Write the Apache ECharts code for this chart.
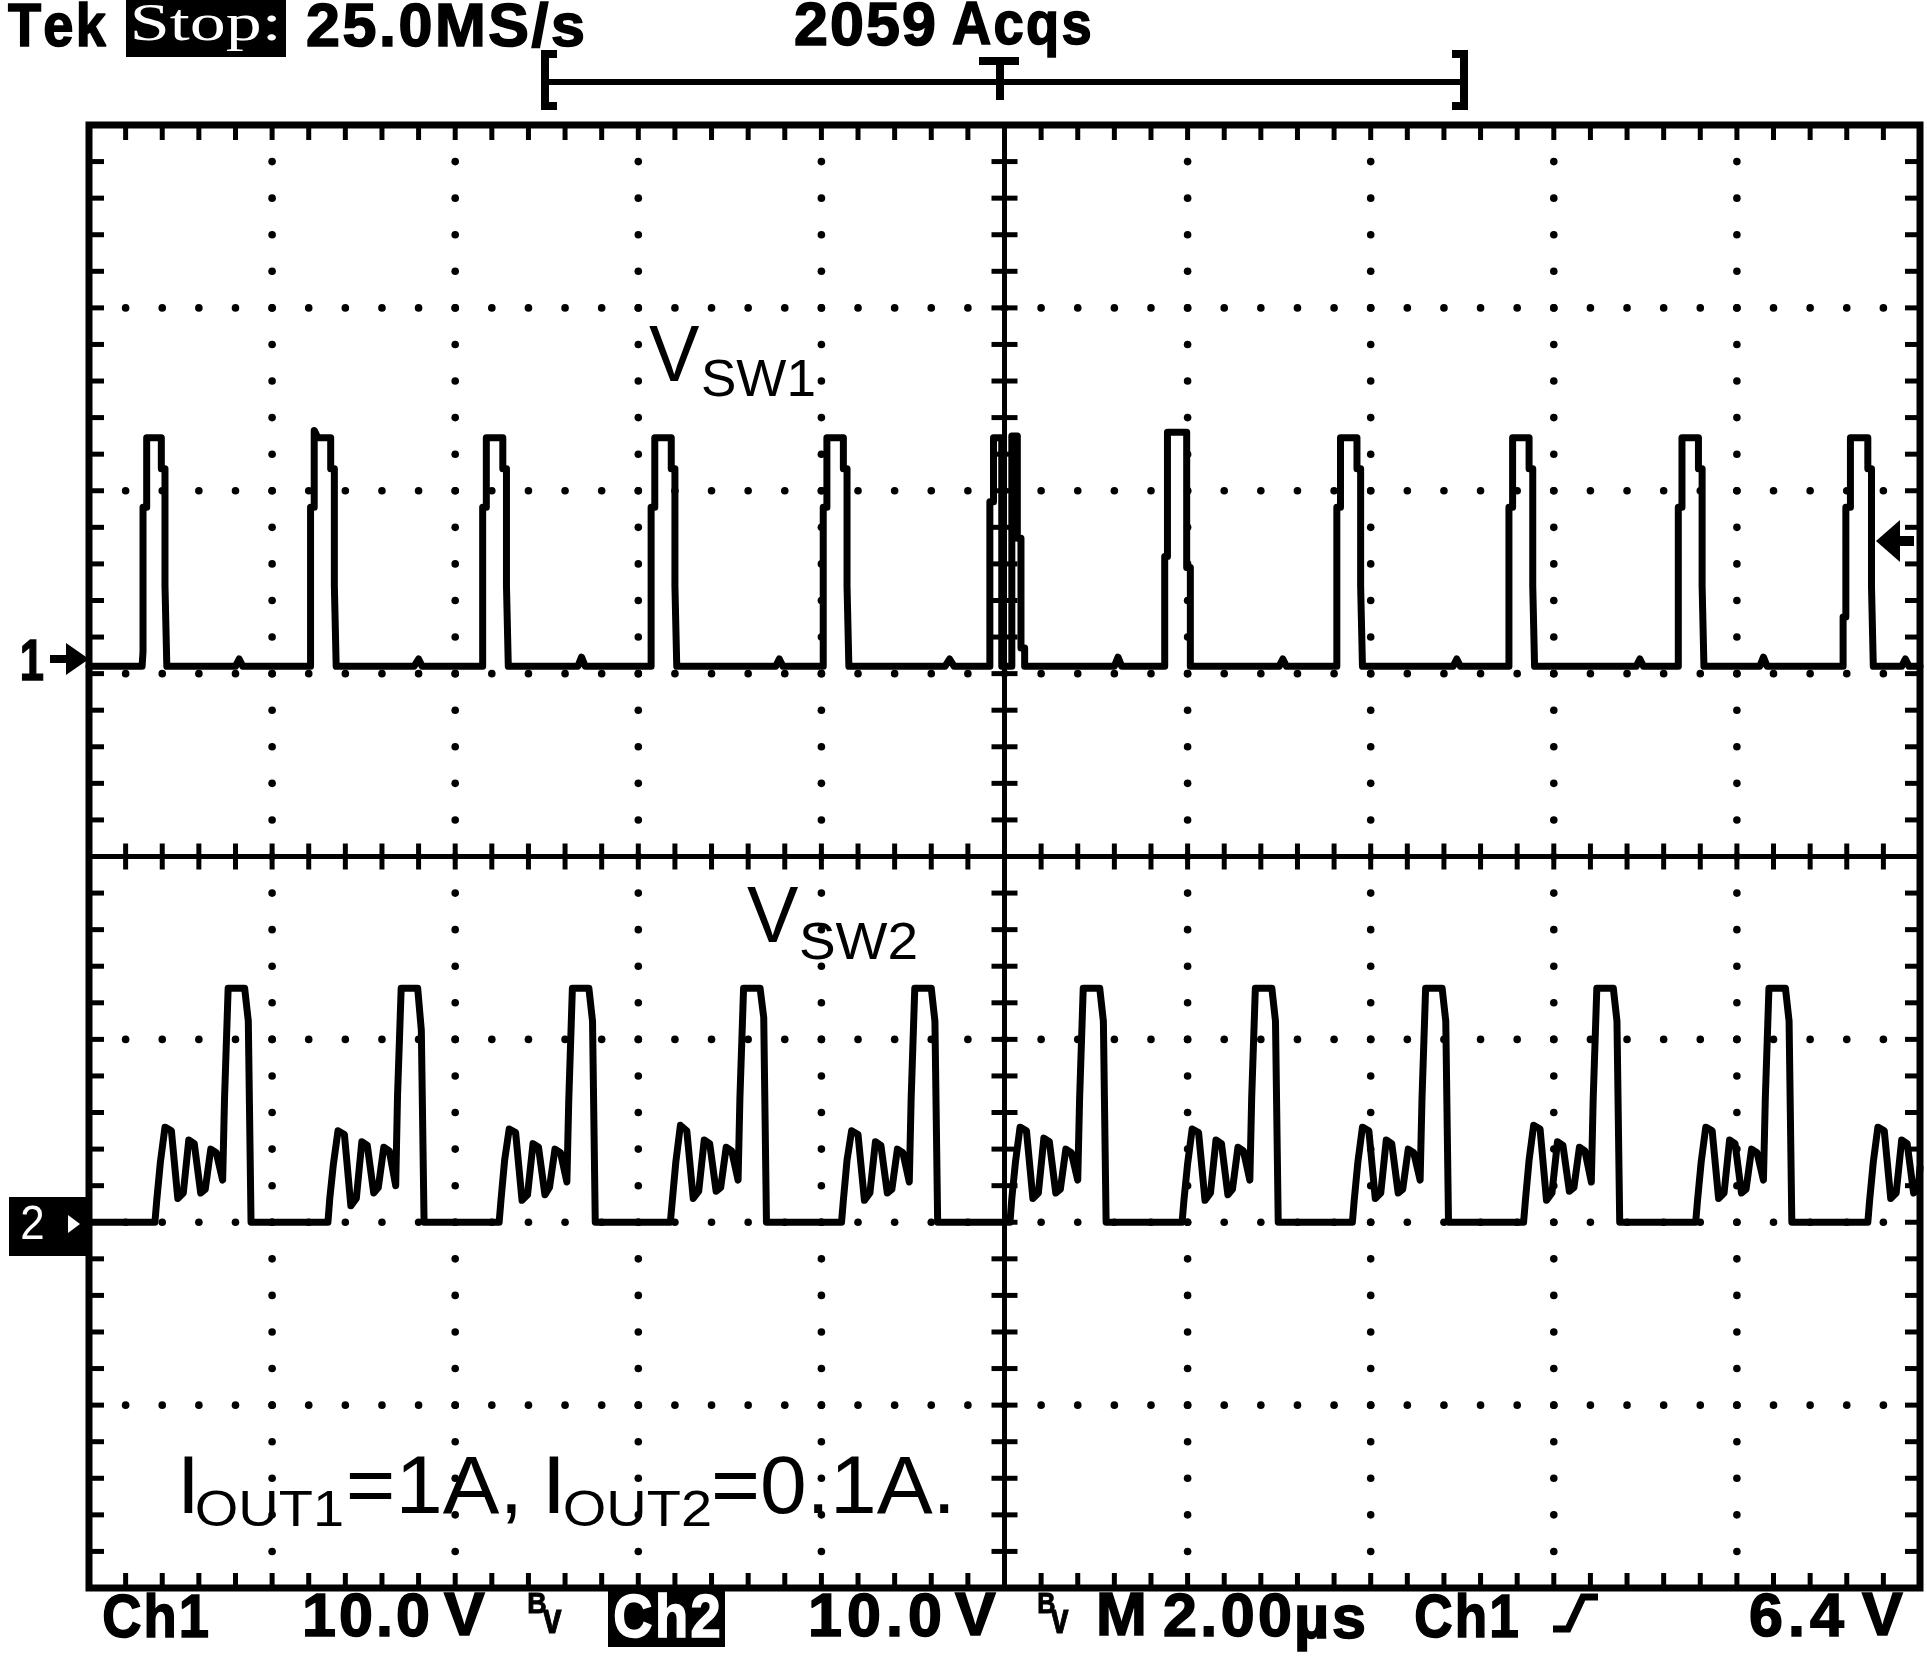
<!DOCTYPE html>
<html><head><meta charset="utf-8">
<script src="https://cdn.jsdelivr.net/npm/echarts@6/dist/echarts.min.js"></script>
<style>html,body{margin:0;padding:0;background:#fff}#c{width:1927px;height:1656px}</style>
</head><body><div id="c"></div>
<script>
// ---- axis ranges (screen = 10 div x 2 us, 8 div vertical, 10 V/div) ----
const timeRange = [0, 20];        // microseconds across the screen
const divRange = [-4, 4];         // graticule divisions
const ch1Range = [-50.4, 29.6];   // volts shown by channel 1 (ground at +1.04 div)
const ch2Range = [-20, 60];       // volts shown by channel 2 (ground at -2 div)

// ---- channel 1 trace (V_SW1): [time us, volts] ----
const ch1Trace = [
[0,0],
[0.58,0],[0.59,0.8],[0.59,8.7],[0.63,8.7],[0.63,12.5],[0.79,12.5],[0.79,10.8],[0.83,10.8],[0.83,4.4],[0.85,4.4],[0.85,0],
[1.60,0],[1.64,0.4],[1.68,0],
[2.42,0],[2.42,8.7],[2.46,8.7],[2.46,12.9],[2.50,12.5],[2.64,12.5],[2.64,10.8],[2.68,10.8],[2.68,4.4],[2.70,4.4],[2.70,0],
[3.55,0],[3.60,0.4],[3.64,0],
[4.30,0],[4.30,8.7],[4.34,8.7],[4.34,12.5],[4.52,12.5],[4.52,10.8],[4.56,10.8],[4.56,4.4],[4.58,4.4],[4.58,0],
[5.34,0],[5.38,0.5],[5.42,0],
[6.14,0],[6.14,8.7],[6.18,8.7],[6.18,12.5],[6.36,12.5],[6.36,10.8],[6.40,10.8],[6.40,4.4],[6.42,4.4],[6.42,0],
[7.50,0],[7.54,0.4],[7.58,0],
[8.02,0],[8.02,8.7],[8.06,8.7],[8.06,12.5],[8.24,12.5],[8.24,10.8],[8.28,10.8],[8.28,4.4],[8.30,4.4],[8.30,0],
[9.35,0],[9.40,0.4],[9.45,0],
[9.84,0],[9.84,9.0],[9.88,9.0],[9.88,12.5],[9.97,12.5],[9.97,0],[10.08,0],[10.08,12.6],[10.14,12.6],[10.14,7.0],[10.18,7.0],[10.18,1.0],[10.22,1.0],[10.22,0],
[11.20,0],[11.24,0.5],[11.28,0],
[11.75,0],[11.75,6.0],[11.78,6.0],[11.78,12.8],[11.99,12.8],[11.99,5.4],[12.03,5.4],[12.03,0],
[13.00,0],[13.04,0.4],[13.08,0],
[13.63,0],[13.63,8.7],[13.67,8.7],[13.67,12.5],[13.85,12.5],[13.85,10.8],[13.89,10.8],[13.89,4.4],[13.91,4.4],[13.91,0],
[14.90,0],[14.94,0.4],[14.98,0],
[15.51,0],[15.51,8.7],[15.55,8.7],[15.55,12.5],[15.73,12.5],[15.73,10.8],[15.77,10.8],[15.77,4.4],[15.79,4.4],[15.79,0],
[16.90,0],[16.94,0.4],[16.98,0],
[17.36,0],[17.36,8.7],[17.40,8.7],[17.40,12.5],[17.58,12.5],[17.58,10.8],[17.62,10.8],[17.62,4.4],[17.64,4.4],[17.64,0],
[18.25,0],[18.29,0.5],[18.33,0],
[19.16,0],[19.16,2.7],[19.19,2.7],[19.19,8.7],[19.24,8.7],[19.24,12.5],[19.43,12.5],[19.43,10.8],[19.47,10.8],[19.47,4.4],[19.49,4.4],[19.49,0],
[19.80,0],[19.84,0.4],[19.88,0],[20,0]
];

// ---- channel 2 trace (V_SW2): [time us, volts] ----
const ch2Trace = [
[0,0],
[0.72,0],[0.74,1.2],[0.78,3.3],[0.83,5.2],[0.90,5.0],[0.97,1.3],[1.03,1.6],[1.09,4.5],[1.15,4.3],[1.22,1.6],[1.27,1.8],[1.33,4.0],[1.39,3.8],[1.46,2.3],[1.48,6.7],[1.52,12.8],[1.70,12.8],[1.74,11.0],[1.77,0],
[2.61,0],[2.63,1.3],[2.67,3.2],[2.72,5.0],[2.79,4.8],[2.86,0.9],[2.92,1.3],[2.98,4.4],[3.04,4.2],[3.11,1.6],[3.16,1.9],[3.22,4.1],[3.28,3.9],[3.35,2.0],[3.37,6.9],[3.41,12.8],[3.59,12.8],[3.63,10.5],[3.66,0],
[4.48,0],[4.50,1.2],[4.54,3.4],[4.59,5.1],[4.66,4.9],[4.73,1.2],[4.79,1.5],[4.85,4.3],[4.91,4.1],[4.98,1.5],[5.03,1.9],[5.09,4.0],[5.15,3.8],[5.22,2.2],[5.24,6.6],[5.28,12.8],[5.46,12.8],[5.50,11.0],[5.53,0],
[6.35,0],[6.37,1.1],[6.41,3.3],[6.46,5.3],[6.53,5.0],[6.60,1.3],[6.66,1.7],[6.72,4.5],[6.78,4.3],[6.85,1.7],[6.90,1.9],[6.96,4.1],[7.02,3.9],[7.09,2.3],[7.11,6.8],[7.15,12.8],[7.33,12.8],[7.37,11.2],[7.40,0],
[8.22,0],[8.24,1.2],[8.28,3.4],[8.33,5.0],[8.40,4.8],[8.47,1.2],[8.53,1.6],[8.59,4.4],[8.65,4.2],[8.72,1.6],[8.77,1.8],[8.83,4.0],[8.89,3.8],[8.96,2.2],[8.98,6.7],[9.02,12.8],[9.20,12.8],[9.24,11.0],[9.27,0],
[10.06,0],[10.08,1.3],[10.12,3.3],[10.17,5.2],[10.24,5.0],[10.31,1.3],[10.37,1.6],[10.43,4.6],[10.49,4.4],[10.56,1.6],[10.61,1.8],[10.67,4.0],[10.73,3.8],[10.80,2.3],[10.82,6.7],[10.86,12.8],[11.04,12.8],[11.08,11.0],[11.11,0],
[11.94,0],[11.96,1.2],[12.00,3.2],[12.05,5.1],[12.12,4.9],[12.19,1.2],[12.25,1.6],[12.31,4.5],[12.37,4.3],[12.44,1.5],[12.49,1.8],[12.55,4.1],[12.61,3.9],[12.68,2.3],[12.70,6.8],[12.74,12.8],[12.92,12.8],[12.96,11.0],[12.99,0],
[13.80,0],[13.82,1.2],[13.86,3.3],[13.91,5.2],[13.98,5.0],[14.05,1.3],[14.11,1.6],[14.17,4.5],[14.23,4.3],[14.30,1.6],[14.35,1.8],[14.41,4.0],[14.47,3.8],[14.54,2.3],[14.56,6.7],[14.60,12.8],[14.78,12.8],[14.82,11.0],[14.85,0],
[15.67,0],[15.69,1.2],[15.73,3.4],[15.78,5.3],[15.85,5.1],[15.92,1.2],[15.98,1.6],[16.04,4.4],[16.10,4.2],[16.17,1.7],[16.22,1.9],[16.28,4.1],[16.34,3.9],[16.41,2.2],[16.43,6.7],[16.47,12.8],[16.65,12.8],[16.69,11.0],[16.72,0],
[17.55,0],[17.57,1.2],[17.61,3.3],[17.66,5.2],[17.73,5.0],[17.80,1.3],[17.86,1.6],[17.92,4.5],[17.98,4.3],[18.05,1.6],[18.10,1.8],[18.16,4.0],[18.22,3.8],[18.29,2.3],[18.31,6.7],[18.35,12.8],[18.53,12.8],[18.57,11.0],[18.60,0],
[19.43,0],[19.45,1.2],[19.49,3.3],[19.54,5.2],[19.61,5.0],[19.68,1.3],[19.74,1.6],[19.80,4.5],[19.86,4.3],[19.93,1.6],[19.98,1.8],[20,3.0]
];

// ---- screen texts ----
const headerTexts = ['Tek', 'Stop:', '25.0MS/s', '2059', 'Acqs'];
const footerTexts = ['Ch1', '10.0', 'V', 'Ch2', '10.0', 'V', 'M', '2.00', 'µs', 'Ch1', '6.4', 'V'];
const traceLabels = ['V', 'SW1', 'V', 'SW2'];
const noteTexts = ['I', 'OUT1', '=1A,', 'I', 'OUT2', '=0.1A.'];

// ---------------------------------------------------------------
const mctx = document.createElement('canvas').getContext('2d');
mctx.textBaseline = 'middle';
function fontOf(size, o) {
  return (o.weight || 'bold') + ' ' + size + 'px "' + (o.family || 'Liberation Sans') + '"';
}
function txtEl(str, x, y, sx, font, fill, strokeW) {
  const st = { text: str, font: font, fill: fill || '#000',
    textAlign: 'left', textVerticalAlign: 'middle', align: 'left', verticalAlign: 'middle' };
  if (strokeW) { st.stroke = fill || '#000'; st.lineWidth = strokeW; }
  return { type: 'text', x: x, y: y, scaleX: sx, scaleY: 1, z: 100, style: st };
}
// whole string stretched to fit [left,right]; top = ink top
function label(str, left, right, top, size, o) {
  o = o || {};
  const font = fontOf(size, o);
  mctx.font = font;
  const m = mctx.measureText(str);
  const ink = m.actualBoundingBoxLeft + m.actualBoundingBoxRight;
  const sx = (right - left) / ink;
  return [txtEl(str, left + m.actualBoundingBoxLeft * sx, top + m.actualBoundingBoxAscent, sx, font, o.fill, o.stroke)];
}
// scope-style lettering: glyphs with even letter spacing to fit [left,right]
function spaced(str, left, right, top, size, o) {
  o = o || {};
  const font = fontOf(size, o);
  mctx.font = font;
  const chars = Array.from(str);
  const ms = chars.map(c => mctx.measureText(c));
  const asc = mctx.measureText(str).actualBoundingBoxAscent;
  const n = chars.length;
  let cx = o.cx || 1.0, x0 = 0, gap = 0;
  const solve = () => {
    x0 = left + ms[0].actualBoundingBoxLeft * cx;
    let advSum = 0;
    for (let i = 0; i < n - 1; i++) advSum += ms[i].width * cx;
    gap = n > 1 ? (right - ms[n - 1].actualBoundingBoxRight * cx - x0 - advSum) / (n - 1) : 0;
  };
  solve();
  while (n > 1 && gap < 2 && cx > 0.6) { cx -= 0.01; solve(); }
  const out = [];
  let x = x0;
  for (let i = 0; i < n; i++) {
    out.push(txtEl(chars[i], x, top + asc, cx, font, o.fill, o.stroke === undefined ? 1.6 : o.stroke));
    x += ms[i].width * cx + gap;
  }
  return out;
}
function rect(x, y, w, h, fill) {
  return { type: 'rect', z: 90, shape: { x: x, y: y, width: w, height: h }, style: { fill: fill || '#000' } };
}
function poly(points, fill) {
  return { type: 'polygon', z: 95, shape: { points: points }, style: { fill: fill || '#000' } };
}
function pline(points, w) {
  return { type: 'polyline', z: 95, shape: { points: points }, style: { stroke: '#000', lineWidth: w, fill: null, lineJoin: 'miter' } };
}

const H = headerTexts, F = footerTexts, T = traceLabels, N = noteTexts;
const graphics = [].concat(
  // header
  spaced(H[0], 8, 106, 2, 61),
  [rect(126, 0, 160, 57)],
  label(H[1], 134, 277, 5, 52, { family: 'Liberation Serif', weight: 'normal', fill: '#fff' }),
  spaced(H[2], 308, 583, 2, 61),
  spaced(H[3], 796, 934, 2, 61),
  spaced(H[4], 953, 1090, 2, 61),
  // record-length bracket and trigger position marker
  [rect(548, 79, 914, 6),
   pline([[557, 54], [545, 54], [545, 106], [557, 106]], 8),
   pline([[1452, 54], [1464, 54], [1464, 106], [1452, 106]], 8),
   rect(979, 57, 40, 8),
   rect(996, 57, 8, 43)],
  // footer
  spaced(F[0], 104, 208, 1593, 61),
  spaced(F[1], 305, 428, 1593, 61),
  spaced(F[2], 444, 476, 1593, 61),
  label('B', 529, 546, 1593, 30, { stroke: 1 }),
  label('v', 543, 562, 1610, 42, { stroke: 1 }),
  [rect(608, 1590, 117, 57)],
  spaced(F[3], 615, 719, 1593, 61, { fill: '#fff' }),
  spaced(F[4], 811, 940, 1593, 61),
  spaced(F[5], 955, 987, 1593, 61),
  label('B', 1039, 1055, 1593, 30, { stroke: 1 }),
  label('v', 1051, 1069, 1610, 42, { stroke: 1 }),
  spaced(F[6], 1100, 1137, 1593, 61),
  spaced(F[7], 1165, 1290, 1593, 61),
  spaced(F[8], 1297, 1364, 1605, 61),
  spaced(F[9], 1416, 1518, 1593, 61),
  [pline([[1553, 1629], [1568, 1629], [1583, 1597], [1598, 1597]], 7)],
  spaced(F[10], 1751, 1844, 1593, 61),
  spaced(F[11], 1862, 1899, 1593, 61),
  // channel ground markers
  label('1', 22, 43, 640, 58, { stroke: 1.5 }),
  [rect(50, 655, 22, 8),
   poly([[66, 643], [89, 659], [66, 675]]),
   rect(9, 1197, 80, 59)],
  label('2', 22, 43, 1205, 48, { weight: 'normal', fill: '#fff' }),
  [poly([[68, 1215], [80, 1224], [68, 1233]], '#fff'),
  // trigger level marker
   poly([[1876, 541], [1900, 520], [1900, 562]]),
   rect(1898, 536, 16, 10)],
  // trace labels
  label(T[0], 649, 700, 326, 80, { weight: 'normal' }),
  label(T[1], 703, 814, 359, 52, { weight: 'normal' }),
  label(T[2], 747, 799, 887, 80, { weight: 'normal' }),
  label(T[3], 801, 916, 922, 52, { weight: 'normal' }),
  // load note
  label(N[0], 184, 193, 1456, 82, { weight: 'normal' }),
  label(N[1], 197, 342, 1490, 50, { weight: 'normal' }),
  label(N[2], 350, 516, 1456, 82, { weight: 'normal' }),
  label(N[3], 549, 559, 1456, 82, { weight: 'normal' }),
  label(N[4], 565, 710, 1490, 50, { weight: 'normal' }),
  label(N[5], 715, 949, 1456, 82, { weight: 'normal' })
);

// graticule drawn through the axis scales
function renderGraticule(params, api) {
  const ch = [];
  const P = (t, d) => api.coord([t, d]);
  const dot = (p) => ({ type: 'circle', shape: { cx: p[0], cy: p[1], r: 3.8 }, style: { fill: '#000' } });
  const seg = (a, b, w) => ({ type: 'line', shape: { x1: a[0], y1: a[1], x2: b[0], y2: b[1] }, style: { stroke: '#000', lineWidth: w } });
  const tl = P(timeRange[0], divRange[1]), br = P(timeRange[1], divRange[0]);
  for (let i = 1; i < 10; i++) {
    if (i === 5) continue;
    for (let k = 1; k < 40; k++) ch.push(dot(P(i * 2, -4 + k * 0.2)));
  }
  for (let j = 1; j < 8; j++) {
    if (j === 4) continue;
    for (let k = 1; k < 50; k++) ch.push(dot(P(k * 0.4, -4 + j)));
  }
  ch.push(seg(P(10, -4), P(10, 4), 5));
  ch.push(seg(P(0, 0), P(20, 0), 5));
  for (let k = 1; k < 40; k++) {
    const p = P(10, -4 + k * 0.2);
    ch.push(seg([p[0] - 13, p[1]], [p[0] + 13, p[1]], 5));
  }
  for (let k = 1; k < 50; k++) {
    const p = P(k * 0.4, 0);
    ch.push(seg([p[0], p[1] - 13], [p[0], p[1] + 13], 5));
  }
  for (let k = 1; k < 50; k++) {
    const a = P(k * 0.4, 4), b = P(k * 0.4, -4);
    ch.push(seg(a, [a[0], a[1] + 15], 5));
    ch.push(seg(b, [b[0], b[1] - 15], 5));
  }
  for (let k = 1; k < 40; k++) {
    const a = P(0, -4 + k * 0.2), b = P(20, -4 + k * 0.2);
    ch.push(seg(a, [a[0] + 15, a[1]], 5));
    ch.push(seg(b, [b[0] - 15, b[1]], 5));
  }
  ch.push({ type: 'rect', shape: { x: tl[0], y: tl[1], width: br[0] - tl[0], height: br[1] - tl[1] },
    style: { fill: null, stroke: '#000', lineWidth: 7 } });
  return { type: 'group', children: ch };
}

const chart = echarts.init(document.getElementById('c'), null, { renderer: 'canvas' });
chart.setOption({
  animation: false,
  backgroundColor: '#fff',
  grid: { left: 89, top: 125, width: 1831, height: 1463, show: false },
  xAxis: { type: 'value', min: timeRange[0], max: timeRange[1], show: false },
  yAxis: [
    { type: 'value', min: divRange[0], max: divRange[1], show: false },
    { type: 'value', min: ch1Range[0], max: ch1Range[1], show: false },
    { type: 'value', min: ch2Range[0], max: ch2Range[1], show: false }
  ],
  graphic: graphics,
  series: [
    { type: 'custom', name: 'graticule', xAxisIndex: 0, yAxisIndex: 0, data: [[0, 0]], clip: false, z: 1,
      renderItem: renderGraticule, silent: true },
    { type: 'line', name: 'VSW1', xAxisIndex: 0, yAxisIndex: 1, data: ch1Trace, showSymbol: false, z: 3,
      lineStyle: { color: '#000', width: 7, join: 'round', cap: 'round' }, silent: true },
    { type: 'line', name: 'VSW2', xAxisIndex: 0, yAxisIndex: 2, data: ch2Trace, showSymbol: false, z: 3,
      lineStyle: { color: '#000', width: 7, join: 'round', cap: 'round' }, silent: true }
  ]
});
</script>
</body></html>
